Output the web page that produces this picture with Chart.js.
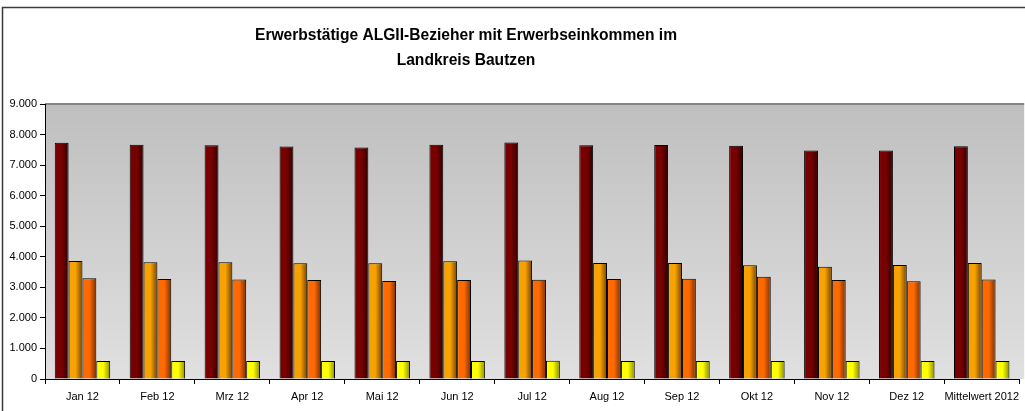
<!DOCTYPE html>
<html>
<head>
<meta charset="utf-8">
<script src="https://cdn.jsdelivr.net/npm/chart.js@4"></script>
<style>
  body { margin: 0; background: #fff; }
  #wrap { width: 1025px; height: 411px; position: relative; }
</style>
</head>
<body>
<div id="wrap"><canvas id="algChart" width="1025" height="411"></canvas></div>
<script>
const titleLines = ['Erwerbstätige ALGII-Bezieher mit Erwerbseinkommen im', 'Landkreis Bautzen'];
const months = ['Jan 12', 'Feb 12', 'Mrz 12', 'Apr 12', 'Mai 12', 'Jun 12', 'Jul 12', 'Aug 12', 'Sep 12', 'Okt 12', 'Nov 12', 'Dez 12', 'Mittelwert 2012'];
const seriesNames = ['Erwerbstätige gesamt', 'Reihe 2', 'Reihe 3', 'Reihe 4'];
const series1 = [7730, 7670, 7650, 7610, 7580, 7670, 7740, 7650, 7660, 7630, 7480, 7480, 7620];
const series2 = [3860, 3820, 3820, 3790, 3790, 3850, 3880, 3800, 3800, 3720, 3670, 3730, 3800];
const series3 = [3300, 3270, 3260, 3240, 3210, 3240, 3250, 3270, 3280, 3350, 3240, 3200, 3260];
const series4 = [590, 590, 590, 590, 590, 590, 600, 590, 590, 590, 590, 590, 590];
const yTicks = [0, 1000, 2000, 3000, 4000, 5000, 6000, 7000, 8000, 9000];

const catPct = 0.74;
// light colour left, dark colour right, like the excel gradient fill
const barColors = [
    ['#780000', '#2e0000'],
    ['#f8a200', '#744400'],
    ['#ff6a00', '#7a3000'],
    ['#ffff00', '#8c8c00'],
];

function barGradient(ctx) {
    const chart = ctx.chart;
    const area = chart.chartArea;
    const cols = barColors[ctx.datasetIndex];
    if (!area || ctx.dataIndex === undefined) return cols[0];
    const xs = chart.scales.x;
    const cw = area.width / months.length;
    const bw = cw * catPct / barColors.length;
    const left = xs.getPixelForValue(ctx.dataIndex) - cw * catPct / 2 + ctx.datasetIndex * bw;
    const g = chart.ctx.createLinearGradient(left, 0, left + bw, 0);
    g.addColorStop(0, cols[0]);
    g.addColorStop(0.5, cols[0]);
    g.addColorStop(1, cols[1]);
    return g;
}

const chartBackground = {
    id: 'chartBackground',
    beforeDraw(chart) {
        const c = chart.ctx;
        const a = chart.chartArea;
        c.save();
        // outer frame
        c.strokeStyle = '#3a3a3a';
        c.lineWidth = 1.5;
        c.beginPath();
        c.moveTo(2.5, 420);
        c.lineTo(2.5, 7.5);
        c.lineTo(1040, 7.5);
        c.stroke();
        // plot area gradient
        const g = c.createLinearGradient(0, a.top, 0, a.bottom);
        g.addColorStop(0, '#bfbfbf');
        g.addColorStop(1, '#e0e0e0');
        c.fillStyle = g;
        c.fillRect(a.left, a.top, a.right - a.left + 5, a.bottom - a.top);
        c.strokeStyle = '#858585';
        c.lineWidth = 2;
        c.beginPath();
        c.moveTo(a.left, a.top);
        c.lineTo(a.right + 5, a.top);
        c.stroke();
        // title
        c.fillStyle = '#000';
        c.font = 'bold 15.6px "Liberation Sans", Arial, sans-serif';
        c.textAlign = 'center';
        c.textBaseline = 'alphabetic';
        c.fillText(titleLines[0], 466, 40);
        c.fillText(titleLines[1], 466, 65);
        c.restore();
    }
};

const datasets = [series1, series2, series3, series4].map((vals, i) => ({
    label: seriesNames[i],
    data: vals,
    backgroundColor: barGradient,
    borderColor: '#000',
    borderWidth: 1,
    categoryPercentage: catPct,
    barPercentage: 1,
}));

new Chart(document.getElementById('algChart'), {
    type: 'bar',
    data: { labels: months, datasets: datasets },
    options: {
        responsive: false,
        animation: false,
        layout: { padding: { top: 104, right: 0, bottom: 0, left: 0 } },
        plugins: {
            legend: { display: false },
            title: { display: false },
            tooltip: { enabled: false },
        },
        scales: {
            x: {
                offset: true,
                grid: { display: true, offset: true, drawOnChartArea: false, tickLength: 5, color: '#000' },
                border: { display: true, color: '#000', width: 1 },
                ticks: {
                    color: '#000',
                    font: { family: '"Liberation Sans", Arial, sans-serif', size: 11 },
                    maxRotation: 0,
                    autoSkip: false,
                    padding: 6,
                },
                afterFit(scale) { scale.height = 32; },
            },
            y: {
                min: 0,
                max: 9000,
                afterBuildTicks(scale) { scale.ticks = yTicks.map(v => ({ value: v })); },
                grid: { display: true, drawOnChartArea: false, tickLength: 5, color: '#000' },
                border: { display: true, color: '#000', width: 1 },
                ticks: {
                    color: '#000',
                    padding: 3,
                    font: { family: '"Liberation Sans", Arial, sans-serif', size: 11 },
                    callback: v => v.toLocaleString('de-DE'),
                },
                afterFit(scale) { scale.width = 45; },
            },
        },
    },
    plugins: [chartBackground],
});
</script>
</body>
</html>
